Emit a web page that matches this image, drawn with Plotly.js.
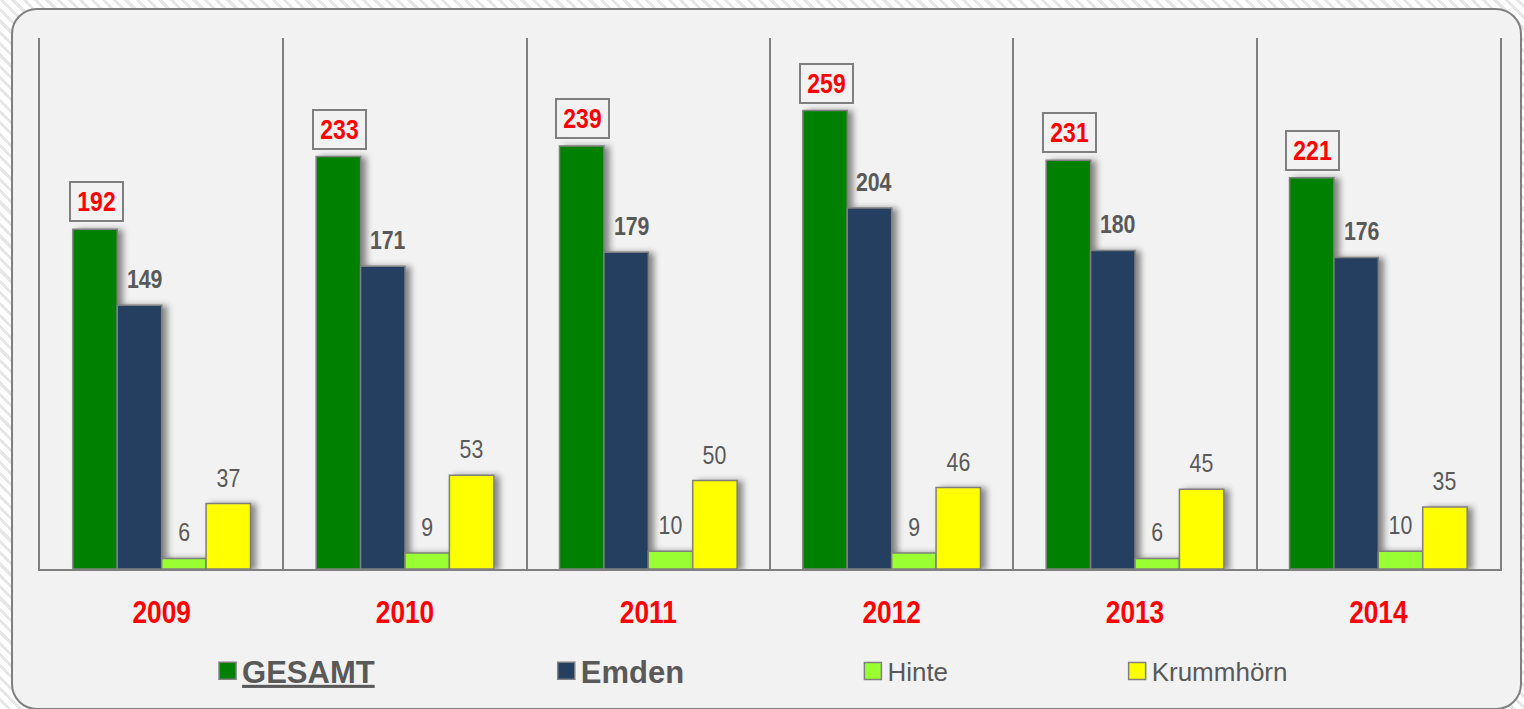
<!DOCTYPE html>
<html>
<head>
<meta charset="utf-8">
<script src="https://cdn.plot.ly/plotly-3.0.1.min.js"></script>
<style>
  html, body { margin:0; padding:0; width:1524px; height:709px; overflow:hidden;
    background: repeating-linear-gradient(45deg, #ffffff 0px, #ffffff 5px, #e6e6e6 5px, #e6e6e6 8px); }
  #panel { position:absolute; left:11px; top:8px; width:1511px; height:702px; box-sizing:border-box;
    border:2px solid #7f7f7f; border-radius:26px; background:#f2f2f2; }
  #chart { position:absolute; left:0; top:0; width:1524px; height:709px; }
</style>
</head>
<body>
<div id="panel"></div>
<div id="chart"></div>
<script>
const years = ['2009', '2010', '2011', '2012', '2013', '2014'];
const gesamt = [192, 233, 239, 259, 231, 221];
const emden = [149, 171, 179, 204, 180, 176];
const hinte = [6, 9, 10, 9, 6, 10];
const krummhoern = [37, 53, 50, 46, 45, 35];
const seriesNames = ['GESAMT', 'Emden', 'Hinte', 'Krummhörn'];

const sans = '"Liberation Sans", Arial, sans-serif';
const gray = '#595959';
const bargap = 0.27;
const barW = (1 - bargap) / 4;
const NARROW = 0.82;

const colors = ['#008000', '#243f60', '#99ff33', '#ffff00'];
const allSeries = [gesamt, emden, hinte, krummhoern];
const legendIds = ['legend', 'legend2', 'legend3', 'legend4'];

const traces = allSeries.map((vals, k) => ({
  type: 'bar',
  name: k === 0 ? '<b><u>' + seriesNames[k] + '</u></b>' : (k === 1 ? '<b>' + seriesNames[k] + '</b>' : seriesNames[k]),
  x: years,
  y: vals,
  marker: { color: colors[k], line: { color: '#7f7f7f', width: 1.5 } },
  legend: legendIds[k],
  hoverinfo: 'x+y'
}));

const annotations = [];
allSeries.forEach((vals, k) => {
  const off = (k - 1.5) * barW;
  vals.forEach((v, i) => {
    if (k === 0) {
      annotations.push({
        x: i + off, y: v, xref: 'x', yref: 'y', text: String(v), showarrow: false,
        yanchor: 'bottom', yshift: 7, xshift: 1,
        font: { family: sans, size: 28, color: '#ff0000', weight: 'bold' },
        bordercolor: '#7f7f7f', borderwidth: 2, borderpad: 3, bgcolor: '#f2f2f2',
        width: 45, height: 31
      });
    } else {
      annotations.push({
        x: i + off, y: v, xref: 'x', yref: 'y',
        text: String(v), showarrow: false,
        yanchor: 'middle', yshift: 26, xshift: k === 1 ? 5 : 0,
        font: { family: sans, size: 26, color: gray, weight: k === 1 ? 'bold' : 'normal' }
      });
    }
  });
});

const legendBase = { orientation: 'h', yanchor: 'middle', y: -0.19, xanchor: 'left', bgcolor: 'rgba(0,0,0,0)', borderwidth: 0 };
const layout = {
  width: 1524, height: 709,
  margin: { l: 40, r: 24, t: 38, b: 139 },
  paper_bgcolor: 'rgba(0,0,0,0)',
  plot_bgcolor: 'rgba(0,0,0,0)',
  barmode: 'group',
  bargap: bargap,
  bargroupgap: 0,
  xaxis: {
    type: 'category', tickson: 'boundaries', showgrid: true, gridcolor: '#808080', gridwidth: 2,
    ticks: '', showline: true, linecolor: '#808080', linewidth: 2,
    tickfont: { family: sans, size: 32, color: '#ff0000', weight: 'bold' },
    ticklabelstandoff: 14, range: [-0.5, 5.5], fixedrange: true
  },
  yaxis: {
    range: [0, 300], showgrid: false, showticklabels: false, ticks: '', zeroline: false,
    showline: true, mirror: true, linecolor: '#808080', linewidth: 2, fixedrange: true
  },
  showlegend: true,
  legend: Object.assign({}, legendBase, { x: 0.111, font: { family: sans, size: 31, color: gray } }),
  legend2: Object.assign({}, legendBase, { x: 0.343, font: { family: sans, size: 31, color: gray } }),
  legend3: Object.assign({}, legendBase, { x: 0.553, font: { family: sans, size: 26, color: gray } }),
  legend4: Object.assign({}, legendBase, { x: 0.734, font: { family: sans, size: 26, color: gray } }),
  annotations: annotations
};

function compress(t, f) {
  const L = t.getComputedTextLength();
  if (L > 0) {
    t.setAttribute('textLength', (L * f).toFixed(2));
    t.setAttribute('lengthAdjust', 'spacingAndGlyphs');
  }
}

Plotly.newPlot('chart', traces, layout, { displayModeBar: false, staticPlot: true }).then(() => {
  document.querySelectorAll('.barlayer .point path').forEach(p => {
    p.style.filter = 'drop-shadow(5px 1px 3px rgba(0,0,0,0.45))';
  });
  document.querySelectorAll('.xtick text, .annotation-text-g text').forEach(t => compress(t, NARROW));
  document.querySelectorAll('.legendpoints path').forEach(p => {
    p.setAttribute('d', 'M8.5,8.5H-8.5V-8.5H8.5Z');
    p.setAttribute('transform', 'translate(25.5,0)');
  });
});
</script>
</body>
</html>
